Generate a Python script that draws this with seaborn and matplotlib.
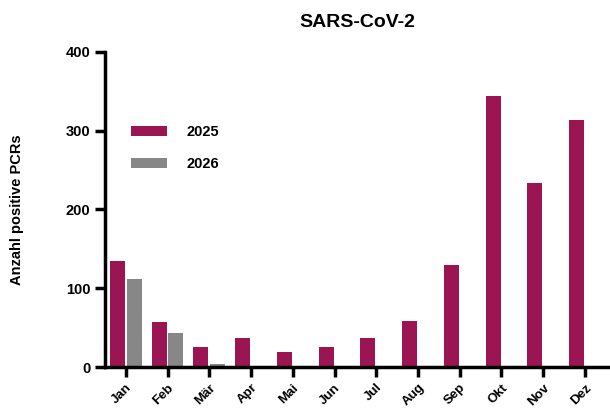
import matplotlib
matplotlib.use("Agg")
import matplotlib.pyplot as plt
import pandas as pd
import seaborn as sns

months = ["Jan", "Feb", "Mär", "Apr", "Mai", "Jun", "Jul", "Aug", "Sep", "Okt", "Nov", "Dez"]
pcr_2025 = [135, 57, 25, 37, 19, 25, 37, 58, 130, 344, 234, 314]
pcr_2026 = [112, 43, 4, None, None, None, None, None, None, None, None, None]
years = ["2025", "2026"]
colors = {"2025": "#9B1553", "2026": "#878787"}

sns.set_theme(style="white")
plt.rcParams["font.family"] = ["Liberation Sans", "DejaVu Sans"]
plt.rcParams["font.weight"] = "bold"
plt.rcParams["text.color"] = "black"
plt.rcParams["axes.labelcolor"] = "black"
plt.rcParams["xtick.color"] = "black"
plt.rcParams["ytick.color"] = "black"

df = pd.DataFrame({
    "Monat": months * 2,
    "Jahr": [years[0]] * len(months) + [years[1]] * len(months),
    "PCRs": pcr_2025 + pcr_2026,
})

fig = plt.figure(figsize=(6.1, 4.18), dpi=100)
ax = fig.add_axes([0.172, 0.122, 0.828, 0.754])

sns.barplot(data=df, x="Monat", y="PCRs", hue="Jahr", order=months,
            hue_order=years, palette=colors, width=0.8, gap=0.1,
            saturation=1, linewidth=0, ax=ax, legend=True)

ax.set_xlim(-0.5, 11.6)
ax.set_ylim(0, 400)
ax.set_yticks([0, 100, 200, 300, 400])
ax.set_xlabel("")
ax.set_ylabel("Anzahl positive PCRs", fontsize=10.5, fontweight="bold")
ax.yaxis.set_label_coords(-0.16, 0.5)
ax.set_title("SARS-CoV-2", fontsize=14, fontweight="bold", pad=18)

for side in ["top", "right"]:
    ax.spines[side].set_visible(False)
for side in ["left", "bottom"]:
    ax.spines[side].set_linewidth(2.5)
    ax.spines[side].set_color("black")

ax.tick_params(axis="both", which="major", direction="out", length=7, width=2.5,
               color="black", labelsize=10.5, left=True, bottom=True)
for lbl in ax.get_yticklabels():
    lbl.set_fontweight("bold")
plt.setp(ax.get_xticklabels(), rotation=45, ha="right", rotation_mode="anchor",
         fontweight="bold", fontsize=9.5)

leg = ax.legend(loc="upper left", bbox_to_anchor=(0.025, 0.81), frameon=False,
                handlelength=2.5, handleheight=0.7, handletextpad=1.3,
                labelspacing=1.25, prop={"weight": "bold", "size": 10.5})
for h in leg.legend_handles:
    h.set_linewidth(0)

fig.savefig("out.png", dpi=100)
